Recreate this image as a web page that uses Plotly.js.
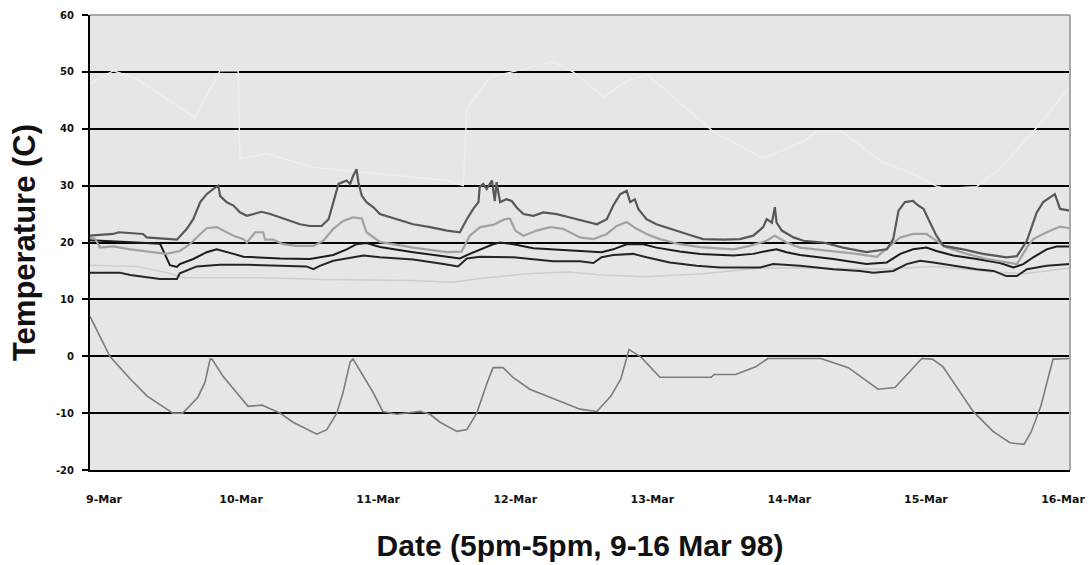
<!DOCTYPE html>
<html>
<head>
<meta charset="utf-8">
<script src="https://cdn.plot.ly/plotly-3.0.1.min.js"></script>
<style>
  html, body { margin: 0; padding: 0; background: #ffffff; }
  #chart { width: 1089px; height: 565px; }
</style>
</head>
<body>
<div id="chart"></div>
<script>
// Hours since 5pm 9 Mar 98
var tickHours = [2.4, 25.9, 49.4, 72.9, 96.4, 119.9, 143.3, 166.8];
var tickLabels = ["9-Mar", "10-Mar", "11-Mar", "12-Mar", "13-Mar", "14-Mar", "15-Mar", "16-Mar"];

// very light series (top)
var topH = [0, 4.0, 8.0, 18.0, 22.3, 25.4, 25.7, 30.3, 38.3, 46.9, 55.4, 61.2, 64.0, 64.6, 68.6, 72.0, 79.4, 82.8, 84.0, 88.1, 92.2, 95.7, 106.7, 115.4, 122.4, 124.7, 128.7, 135.7, 141.5, 145.3, 146.7, 152.0, 156.0, 161.8, 168];
var topT = [47.9, 50.2, 48.8, 42.0, 50.2, 50.2, 34.7, 35.6, 33.2, 32.3, 31.5, 30.9, 30.0, 43.5, 49.1, 49.9, 51.8, 50.0, 49.0, 45.6, 48.5, 49.4, 39.6, 34.8, 37.8, 39.6, 39.6, 34.2, 31.9, 29.8, 29.5, 29.8, 33.0, 39.6, 47.4];

// light grey series
var lightH = [0, 8, 14, 16, 30, 40, 55, 62, 68, 75, 82, 88, 95, 105, 115, 125, 135, 145, 155, 160, 168];
var lightT = [16.0, 15.8, 14.5, 13.8, 13.8, 13.5, 13.3, 13.0, 13.8, 14.5, 14.8, 14.3, 14.0, 14.5, 15.5, 15.5, 15.3, 15.8, 14.8, 14.5, 15.5];

// outdoor series
var outH = [0, 3.4, 6.9, 9.8, 14.2, 15.9, 18.5, 19.7, 20.6, 20.9, 22.8, 25.2, 27.1, 29.5, 32.6, 34.8, 38.9, 40.6, 42.3, 43.4, 44.6, 45.1, 46.8, 48.5, 50.2, 52.6, 56.6, 58.3, 60.0, 62.9, 64.6, 66.3, 68.1, 69.1, 70.8, 72.5, 75.4, 78.3, 81.1, 84.0, 86.9, 89.3, 91.0, 91.9, 92.4, 94.5, 97.7, 106.5, 107.0, 110.7, 114.2, 116.2, 125.3, 130.0, 135.1, 138.0, 140.4, 142.6, 144.4, 146.2, 151.4, 154.8, 157.7, 160.1, 161.3, 163.0, 164.2, 165.1, 168];
var outT = [7.0, 0, -4, -7, -10, -10, -7.2, -4.6, -0.5, -0.5, -3.5, -6.4, -8.8, -8.6, -10, -11.6, -13.7, -12.9, -10, -6.3, -1, -0.5, -3.5, -6.3, -9.7, -10.2, -9.7, -10.2, -11.6, -13.2, -12.9, -10, -4.6, -2, -2, -3.7, -5.8, -7, -8.1, -9.3, -9.7, -7, -4, -0.5, 1.2, -0.2, -3.7, -3.7, -3.2, -3.2, -1.8, -0.4, -0.4, -2, -5.8, -5.5, -2.8, -0.4, -0.5, -1.8, -9.7, -13.2, -15.2, -15.5, -13.4, -8.8, -4, -0.5, -0.4];

// lower black series
var lowH = [0, 5.1, 6.9, 9.7, 12.0, 14.9, 15.4, 18.3, 22.3, 26.9, 32.6, 37.1, 38.3, 39.4, 41.7, 44.0, 46.9, 49.7, 55.4, 60.6, 63.1, 64.6, 66.9, 72.6, 76.6, 79.4, 84.0, 86.3, 87.7, 89.7, 93.1, 95.4, 99.4, 104.0, 108.0, 114.9, 117.1, 121.7, 127.4, 132.0, 134.3, 137.7, 140.0, 142.3, 144.6, 148.0, 152.0, 154.9, 157.1, 158.9, 160.6, 164.0, 168];
var lowT = [14.7, 14.7, 14.3, 13.9, 13.6, 13.6, 14.6, 15.8, 16.1, 16.1, 15.9, 15.8, 15.3, 15.9, 16.8, 17.2, 17.7, 17.4, 17.0, 16.2, 15.8, 17.2, 17.5, 17.4, 17.0, 16.7, 16.7, 16.4, 17.4, 17.8, 18.0, 17.4, 16.5, 15.9, 15.6, 15.6, 16.2, 15.9, 15.3, 15.0, 14.7, 15.0, 16.2, 16.8, 16.5, 15.9, 15.3, 15.0, 14.1, 14.1, 15.3, 15.9, 16.2];

// upper black series
var upH = [0, 3, 8, 12, 13, 13.7, 14.9, 15.4, 17.7, 18.9, 20.0, 21.7, 22.9, 24.6, 26.3, 32.6, 37.7, 40.0, 41.7, 44.0, 45.7, 47.4, 49.7, 55.4, 61.2, 63.4, 65.1, 66.9, 69.1, 70.3, 72.6, 76.0, 80.0, 86.3, 87.7, 89.7, 92.0, 94.9, 97.1, 101.1, 104.6, 110.3, 113.7, 116.0, 117.7, 119.4, 121.7, 127.4, 133.1, 136.6, 138.9, 141.1, 143.4, 145.1, 148.0, 152.0, 156.0, 158.3, 160.0, 161.7, 164.0, 165.7, 168];
var upT = [20.4, 20.2, 20.0, 19.8, 17.5, 16.0, 15.7, 16.2, 17.1, 17.8, 18.3, 18.8, 18.5, 18.0, 17.5, 17.2, 17.1, 17.5, 17.8, 18.8, 19.7, 19.9, 19.2, 18.3, 17.5, 17.2, 18.0, 18.8, 19.7, 20.0, 19.7, 19.0, 18.8, 18.5, 18.3, 18.8, 19.7, 19.7, 19.1, 18.4, 18.0, 17.7, 18.0, 18.5, 18.8, 18.3, 17.8, 17.1, 16.2, 16.5, 18.0, 18.8, 19.1, 18.5, 17.7, 17.1, 16.4, 15.6, 16.2, 17.4, 18.8, 19.3, 19.3];

// medium grey series
var midH = [0, 0.9, 1.7, 4.0, 6.9, 10.9, 13.1, 15.4, 17.1, 18.9, 20.0, 21.7, 22.9, 24.6, 26.3, 26.9, 28.3, 29.7, 30.0, 31.4, 33.1, 35.4, 38.3, 40.0, 41.7, 43.4, 45.1, 46.6, 47.4, 48.6, 49.7, 55.4, 61.2, 63.7, 65.1, 66.9, 69.1, 71.1, 72.0, 72.9, 74.3, 76.6, 78.9, 81.1, 84.0, 86.3, 88.6, 90.3, 92.0, 93.7, 95.4, 97.7, 101.1, 104.6, 110.3, 113.1, 116.0, 117.4, 119.4, 121.7, 127.4, 131.4, 134.9, 137.1, 138.9, 141.1, 143.4, 145.1, 146.9, 150.3, 153.7, 157.1, 158.9, 160.6, 161.7, 164.0, 166.3, 168];
var midT = [20.9, 20.6, 19.1, 19.3, 18.8, 18.3, 18.0, 18.5, 19.7, 21.5, 22.5, 22.7, 22.1, 21.2, 20.6, 20.0, 21.8, 21.8, 20.5, 20.5, 19.7, 19.4, 19.4, 20.3, 22.4, 23.8, 24.4, 24.2, 21.8, 20.9, 20.1, 19.1, 18.3, 18.4, 21.2, 22.7, 23.1, 24.1, 24.2, 22.1, 21.2, 22.1, 22.7, 22.4, 20.9, 20.6, 21.5, 22.9, 23.6, 22.4, 21.5, 20.6, 19.7, 19.2, 18.8, 19.4, 20.3, 21.2, 20.0, 19.1, 18.5, 18.0, 17.5, 19.4, 20.9, 21.5, 21.5, 20.3, 19.1, 18.0, 17.1, 16.5, 16.2, 19.1, 20.6, 21.8, 22.8, 22.5];

// dark grey series (largest daytime peaks)
var darkH = [0, 4.0, 4.9, 9.1, 9.7, 13.7, 14.9, 16.6, 17.7, 18.9, 20.0, 21.1, 22.0, 22.3, 23.4, 24.6, 25.7, 26.9, 28.0, 29.4, 30.9, 32.6, 34.3, 36.0, 37.7, 39.7, 40.9, 41.7, 42.6, 44.0, 44.6, 45.1, 45.7, 46.0, 46.6, 47.4, 48.6, 49.7, 52.6, 55.4, 58.3, 61.2, 63.4, 64.6, 65.7, 66.6, 66.8, 67.4, 68.0, 68.9, 69.4, 69.7, 70.3, 71.4, 72.3, 73.1, 74.3, 76.0, 77.7, 80.0, 82.3, 84.6, 86.9, 88.6, 89.7, 90.9, 92.0, 92.6, 93.4, 94.0, 95.4, 97.1, 99.4, 102.3, 105.1, 108.6, 111.4, 113.7, 115.4, 116.0, 116.9, 117.4, 117.7, 118.6, 120.6, 122.3, 125.7, 129.1, 133.1, 136.6, 137.7, 138.6, 139.7, 141.1, 142.0, 142.9, 144.0, 145.1, 146.3, 149.7, 153.1, 157.1, 158.9, 160.6, 162.3, 163.4, 165.4, 166.3, 168];
var darkT = [21.2, 21.5, 21.8, 21.5, 20.9, 20.6, 20.5, 22.4, 24.1, 27.1, 28.5, 29.4, 30.0, 28.2, 27.1, 26.5, 25.3, 24.7, 25.0, 25.4, 25.0, 24.4, 23.8, 23.2, 22.9, 22.9, 24.1, 27.1, 30.3, 30.9, 30.3, 31.7, 32.9, 30.6, 28.2, 27.1, 26.2, 25.0, 24.1, 23.2, 22.7, 22.1, 21.8, 24.1, 25.9, 27.1, 29.7, 30.3, 29.4, 30.9, 27.3, 30.6, 27.1, 27.6, 27.3, 26.2, 25.0, 24.7, 25.3, 25.0, 24.4, 23.8, 23.2, 24.1, 26.5, 28.5, 29.1, 27.1, 27.6, 25.9, 24.1, 23.2, 22.4, 21.5, 20.6, 20.5, 20.6, 21.2, 22.7, 24.1, 23.5, 26.2, 23.5, 22.1, 20.9, 20.3, 20.0, 19.1, 18.3, 18.8, 20.6, 25.6, 27.1, 27.3, 26.5, 25.9, 23.5, 21.2, 19.4, 18.8, 18.0, 17.4, 17.6, 20.3, 25.3, 27.1, 28.5, 25.9, 25.6];

function line(x, y, color, width) {
  return { type: 'scatter', mode: 'lines', x: x, y: y,
           line: { color: color, width: width }, hoverinfo: 'skip', showlegend: false };
}

var data = [
  line(topH, topT, '#eeeeee', 1.4),
  line(lightH, lightT, '#cdcdcd', 1.5),
  line(outH, outT, '#7c7c7c', 1.6),
  line(lowH, lowT, '#262626', 2),
  line(upH, upT, '#1c1c1c', 2),
  line(midH, midT, '#a2a2a2', 2.2),
  line(darkH, darkT, '#585858', 2.2)
];

var layout = {
  width: 1089, height: 565,
  margin: { l: 90, r: 19, t: 15, b: 95 },
  paper_bgcolor: '#ffffff',
  plot_bgcolor: '#e6e6e6',
  showlegend: false,
  xaxis: {
    range: [0, 168], tickmode: 'array', tickvals: tickHours, ticktext: tickLabels,
    showgrid: false, zeroline: false, showline: true, linecolor: '#000', linewidth: 2,
    ticks: '', ticklabelstandoff: 18,
    tickfont: { family: 'DejaVu Sans', size: 11, color: '#111', weight: 'bold' },
    title: { text: 'Date (5pm-5pm, 9-16 Mar 98)', standoff: 30,
             font: { family: 'Liberation Sans', size: 30, color: '#111', weight: 'bold' } }
  },
  yaxis: {
    range: [-20, 60], tickmode: 'array', tickvals: [-20, -10, 0, 10, 20, 30, 40, 50, 60],
    ticktext: ['-20', '-10', '0', '10', '20', '30', '40', '50', '60'],
    showgrid: true, gridcolor: '#000', gridwidth: 2, zeroline: false,
    showline: true, linecolor: '#000', linewidth: 2,
    ticks: 'outside', ticklen: 6, tickwidth: 2, tickcolor: '#000', ticklabelstandoff: 6,
    tickfont: { family: 'DejaVu Sans', size: 10, color: '#111', weight: 'bold' },
    title: { text: 'Temperature (C)', standoff: 11,
             font: { family: 'Liberation Sans', size: 31, color: '#111', weight: 'bold' } }
  },
  shapes: [
    { type: 'line', xref: 'paper', yref: 'paper', x0: 0, x1: 1, y0: 1, y1: 1,
      line: { color: '#a8a8a8', width: 2 }, layer: 'above' },
    { type: 'line', xref: 'paper', yref: 'paper', x0: 1, x1: 1, y0: 0, y1: 1,
      line: { color: '#a8a8a8', width: 2 }, layer: 'above' }
  ]
};

Plotly.newPlot('chart', data, layout, { staticPlot: true, displayModeBar: false });
</script>
</body>
</html>
